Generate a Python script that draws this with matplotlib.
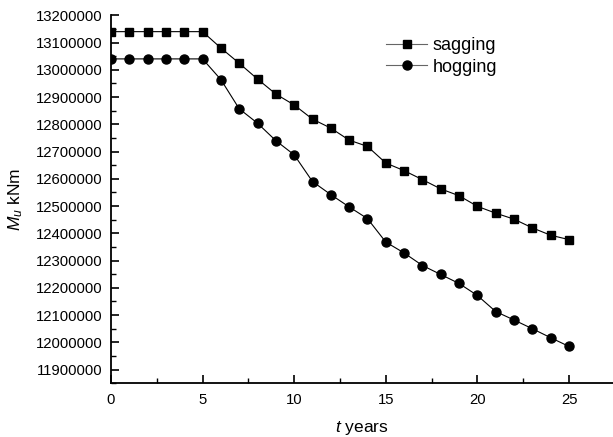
import matplotlib
matplotlib.use("Agg")
import matplotlib.pyplot as plt
from matplotlib.lines import Line2D
from matplotlib.ticker import MultipleLocator, FuncFormatter

years = list(range(0, 26))
sagging = [13140000, 13140000, 13140000, 13140000, 13140000, 13140000,
           13080000, 13024000, 12966000, 12911000, 12871000, 12819000,
           12786000, 12742000, 12719000, 12658000, 12630000, 12597000,
           12563000, 12538000, 12499000, 12474000, 12452000, 12420000,
           12393000, 12377000]
hogging = [13040000, 13040000, 13040000, 13040000, 13040000, 13040000,
           12964000, 12857000, 12804000, 12740000, 12688000, 12590000,
           12542000, 12497000, 12454000, 12368000, 12328000, 12282000,
           12249000, 12216000, 12172000, 12113000, 12082000, 12050000,
           12017000, 11985000]
labels = ["sagging", "hogging"]

plt.rcParams['font.family'] = ['Liberation Sans', 'DejaVu Sans']
plt.rcParams['mathtext.fontset'] = 'custom'
plt.rcParams['mathtext.it'] = 'Liberation Sans:italic'
plt.rcParams['mathtext.rm'] = 'Liberation Sans'

fig = plt.figure(figsize=(6.13, 4.37), dpi=100)
ax = fig.add_axes([0.181, 0.123, 0.819, 0.842])

ax.plot(years, sagging, color='black', lw=0.8, marker='s', ms=5.5,
        mfc='black', mec='black')
ax.plot(years, hogging, color='black', lw=0.8, marker='o', ms=6.5,
        mfc='black', mec='black')

ax.set_xlim(0, 27.4)
ax.set_ylim(11850000, 13200000)
ax.xaxis.set_major_locator(MultipleLocator(5))
ax.xaxis.set_minor_locator(MultipleLocator(2.5))
ax.yaxis.set_major_locator(MultipleLocator(100000))
ax.yaxis.set_minor_locator(MultipleLocator(50000))
ax.yaxis.set_major_formatter(FuncFormatter(lambda v, p: f"{int(round(v))}"))

for s in ['top', 'right']:
    ax.spines[s].set_visible(False)
for s in ['left', 'bottom']:
    ax.spines[s].set_linewidth(1.3)

ax.tick_params(axis='both', which='major', direction='in', length=6, width=1.2,
               labelsize=10.7)
ax.tick_params(axis='both', which='minor', direction='in', length=3.5, width=1.0)
ax.tick_params(axis='y', which='major', pad=6)
ax.tick_params(axis='x', which='major', pad=7)

ax.set_xlabel(r"$t$ years", fontsize=12.5, labelpad=9)
ax.set_ylabel(r"$M_u$ kNm", fontsize=12.5, labelpad=8)

handles = [
    Line2D([], [], color='#666666', lw=0.8, marker='s', ms=5.5, mfc='black', mec='black'),
    Line2D([], [], color='#666666', lw=0.8, marker='o', ms=6.5, mfc='black', mec='black'),
]
ax.legend(handles, labels, loc='upper left', bbox_to_anchor=(0.515, 0.985),
          frameon=False, fontsize=13, handlelength=2.3, handletextpad=0.3,
          labelspacing=0.25)

fig.savefig("out.png", dpi=100)
